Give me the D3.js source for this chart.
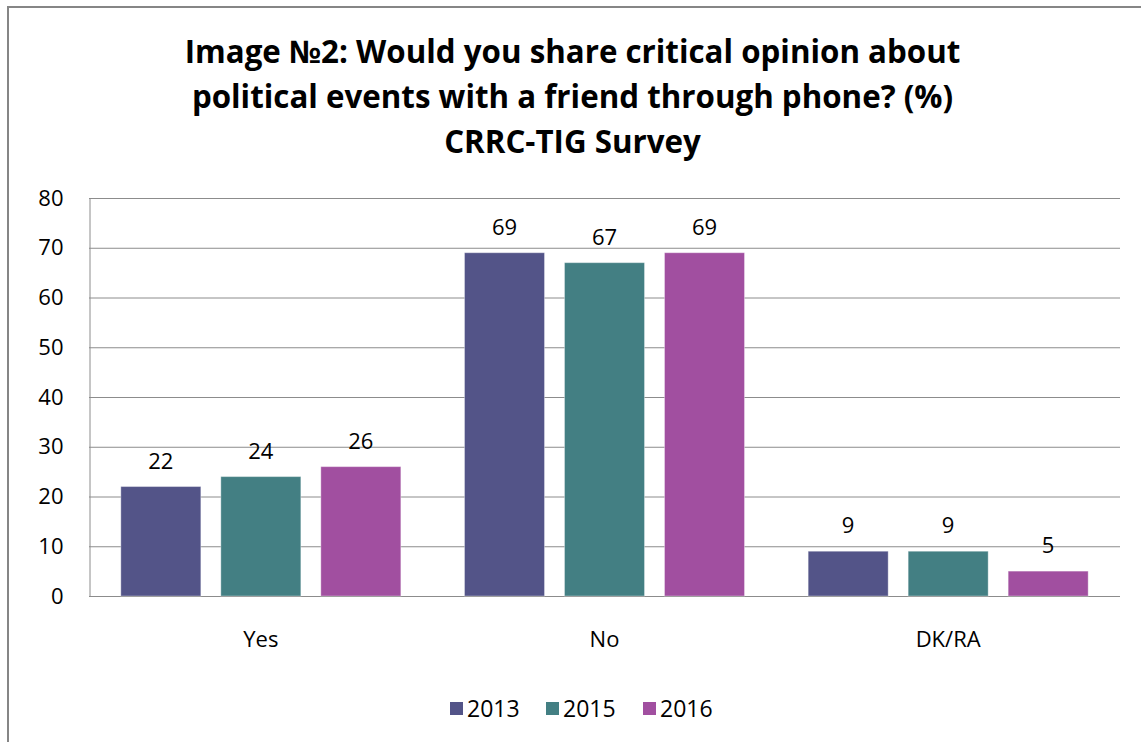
<!DOCTYPE html>
<html>
<head>
<meta charset="utf-8">
<script src="https://cdn.jsdelivr.net/npm/d3@7"></script>
<style>
  html, body { margin: 0; padding: 0; background: #fff; }
  svg { display: block; }
  text { font-family: "Open Sans", "Noto Sans", sans-serif; fill: #000; }
</style>
</head>
<body>
<svg id="chart" width="1141" height="742"></svg>
<script>
// Survey answers (%) by year
const categories = ["Yes", "No", "DK/RA"];
const years = ["2013", "2015", "2016"];
const values2013 = [22, 69, 9];
const values2015 = [24, 67, 9];
const values2016 = [26, 69, 5];
const yTicks = [0, 10, 20, 30, 40, 50, 60, 70, 80];
const titleLines = [
  "Image №2: Would you share critical opinion about",
  "political events with a friend through phone? (%)",
  "CRRC-TIG Survey"
];

const seriesValues = [values2013, values2015, values2016];
const colors = ["#535488", "#437F83", "#A14FA0"];
const FONT = "'Open Sans', 'Noto Sans', sans-serif";

const svg = d3.select("#chart");
const W = 1141, H = 742;

// outer chart frame (runs past the right and bottom edges)
svg.append("rect")
  .attr("x", 8).attr("y", 7)
  .attr("width", W + 20).attr("height", H + 20)
  .attr("fill", "#fff")
  .attr("stroke", "#868686").attr("stroke-width", 2);

// title
const title = svg.append("text")
  .attr("text-anchor", "middle")
  .attr("font-weight", "bold")
  .attr("font-size", 31.3);
titleLines.forEach((t, i) => {
  title.append("tspan").attr("x", 572.5).attr("y", 63 + i * 45).text(t);
});

const plot = { left: 89, right: 1120, top: 198, bottom: 596 };

const y = d3.scaleLinear().domain([0, 80]).range([plot.bottom, plot.top]);
const x0 = d3.scaleBand().domain(categories).range([plot.left, plot.right]).paddingInner(0).paddingOuter(0);
const groupWidth = 280;
const x1 = d3.scaleBand().domain(years).range([0, groupWidth]).paddingInner(0.2).paddingOuter(0);

// gridlines
svg.append("g")
  .selectAll("line")
  .data(yTicks)
  .join("line")
  .attr("x1", plot.left).attr("x2", plot.right)
  .attr("y1", d => y(d) + 0.5).attr("y2", d => y(d) + 0.5)
  .attr("stroke", "#8c8c8c").attr("stroke-width", 1);

// y axis
const yAxis = svg.append("g")
  .attr("transform", `translate(${plot.left + 0.5},0)`)
  .call(d3.axisLeft(y).tickValues(yTicks).tickSize(0).tickPadding(26));
yAxis.select(".domain").attr("stroke", "#8c8c8c");
yAxis.selectAll("text").attr("font-size", 22).attr("fill", "#000")
  .style("font-family", FONT);

// bars
const groups = svg.append("g")
  .selectAll("g")
  .data(categories)
  .join("g")
  .attr("transform", c => `translate(${x0(c) + (x0.bandwidth() - groupWidth) / 2},0)`);

groups.each(function(c, ci) {
  const g = d3.select(this);
  const rows = years.map((yr, si) => ({ yr, v: seriesValues[si][ci], color: colors[si] }));
  g.selectAll("rect")
    .data(rows)
    .join("rect")
    .attr("x", d => x1(d.yr))
    .attr("y", d => y(d.v))
    .attr("width", x1.bandwidth())
    .attr("height", d => y(0) - y(d.v))
    .attr("fill", d => d.color)
    .attr("stroke", "#ffffff").attr("stroke-opacity", 0.35).attr("stroke-width", 1);
  g.selectAll("text.val")
    .data(rows)
    .join("text")
    .attr("class", "val")
    .attr("x", d => x1(d.yr) + x1.bandwidth() / 2)
    .attr("y", d => y(d.v) - 18)
    .attr("text-anchor", "middle")
    .attr("font-size", 22)
    .text(d => d.v);
});

// category labels
svg.append("g")
  .selectAll("text")
  .data(categories)
  .join("text")
  .attr("x", c => x0(c) + x0.bandwidth() / 2)
  .attr("y", 647)
  .attr("text-anchor", "middle")
  .attr("font-size", 22)
  .text(c => c);

// legend
const legendX = [450, 546, 643];
const legend = svg.append("g")
  .selectAll("g")
  .data(years)
  .join("g")
  .attr("transform", (d, i) => `translate(${legendX[i]},702)`);
legend.append("rect")
  .attr("width", 13).attr("height", 13)
  .attr("fill", (d, i) => colors[i]);
legend.append("text")
  .attr("x", 17).attr("y", 15)
  .attr("font-size", 23)
  .text(d => d);
</script>
</body>
</html>
